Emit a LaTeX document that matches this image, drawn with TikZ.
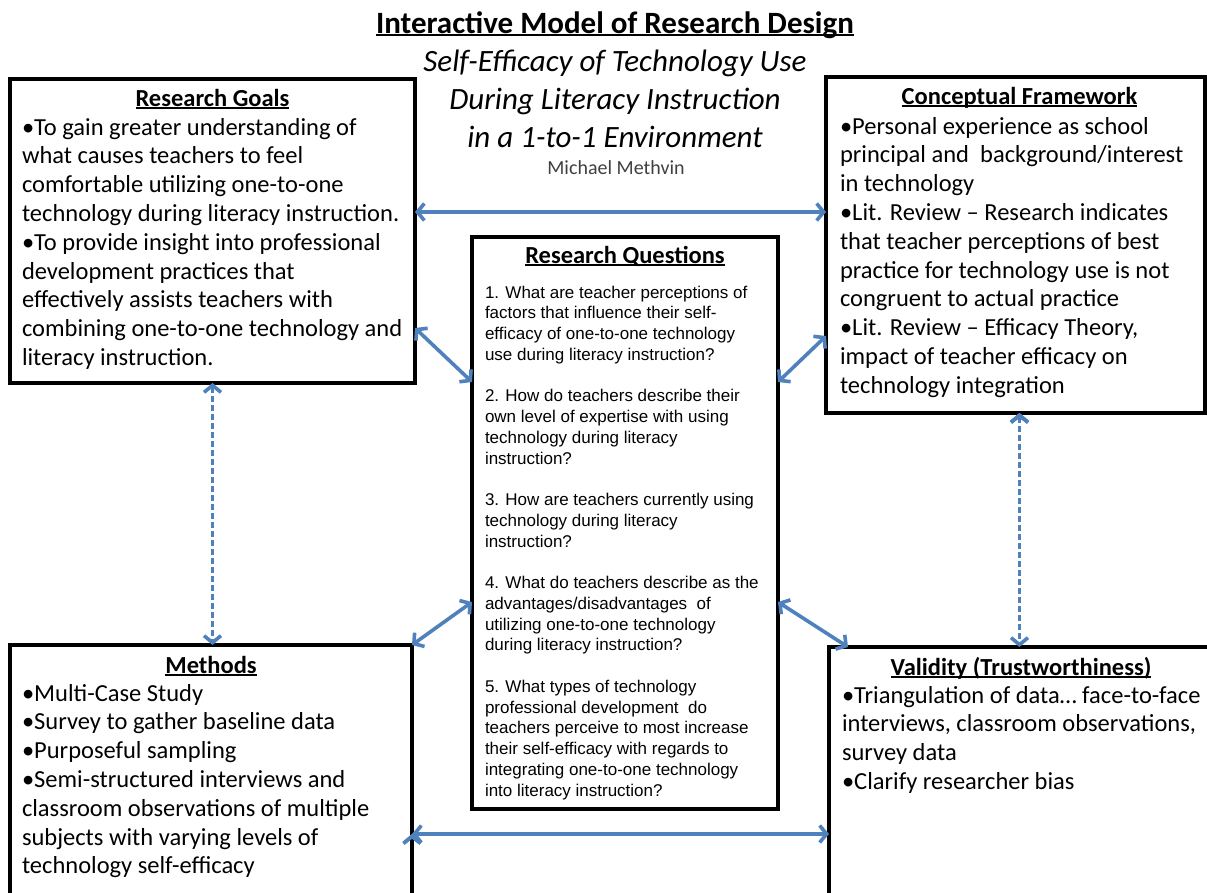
\documentclass[tikz,border=0pt]{standalone}
\usepackage{fontspec}
\setmainfont{Carlito}
\newfontfamily\qfont{Liberation Sans}
\usetikzlibrary{arrows.meta,positioning,calc}
\definecolor{linkblue}{HTML}{4F81BD}
\definecolor{namegray}{HTML}{404040}
\newcommand{\uln}[1]{\setbox0\hbox{#1}\rlap{\rule[-2.6pt]{\wd0}{1.8pt}}\box0}

\begin{document}
\begin{tikzpicture}[
    x=1pt, y=-1pt,
    every node/.style = {inner sep=0pt, outer sep=0pt},
    panel/.style = {draw, line width=3.5pt, anchor=north west},
    heading/.style = {font=\bfseries\fontsize{24.5}{28}\selectfont, anchor=base},
    bullets/.style = {font=\fontsize{24.5}{28.8}\selectfont, align=left, anchor=base west},
    questions/.style = {font=\qfont\fontsize{17}{20.75}\selectfont, align=left, anchor=base west},
    link/.style = {draw=linkblue, line width=3.6pt,
      {Straight Barb[length=7pt,width=17pt]}-{Straight Barb[length=7pt,width=17pt]}},
    dashlink/.style = {link, dash pattern=on 6pt off 3pt}
  ]
  \useasboundingbox (0,0) rectangle (1207,892);

  % title block (multi-line nodes sit on their last baseline)
  \node[font=\bfseries\fontsize{31}{34}\selectfont, anchor=base] (title) at (615,33)
    {\uln{Interactive Model of Research Design}};
  \node[font=\itshape\fontsize{31}{38}\selectfont, align=center, anchor=base] (subtitle) at (615,147)
    {Self-Efficacy of Technology Use\\During Literacy Instruction\\in a 1-to-1 Environment};
  \node[font=\fontsize{20}{22}\selectfont, text=namegray, anchor=base] (author) at (616,174)
    {Michael Methvin};

  % boxes
  \node[panel, minimum width=405pt, minimum height=304pt] (goals) at (10,79) {};
  \node[panel, minimum width=379pt, minimum height=336pt] (frame) at (826,77) {};
  \node[panel, minimum width=306pt, minimum height=572pt] (rq) at (472,237) {};
  \node[panel, minimum width=402pt, minimum height=260pt] (methods) at (10,645) {};
  \node[panel, minimum width=385pt, minimum height=260pt] (valid) at (829,647) {};

  % research goals
  \node[heading] (goalshead) at ([yshift=-27pt]goals.north) {\uln{Research Goals}};
  \node[bullets] (goalstext) at ([xshift=12pt,yshift=-286.4pt]goals.north west)
    {•To gain greater understanding of\\
     what causes teachers to feel\\
     comfortable utilizing one-to-one\\
     technology during literacy instruction.\\
     •To provide insight into professional\\
     development practices that\\
     effectively assists teachers with\\
     combining one-to-one technology and\\
     literacy instruction.};

  % conceptual framework
  \node[heading] (framehead) at ([xshift=4pt,yshift=-27pt]frame.north) {\uln{Conceptual Framework}};
  \node[bullets] (frametext) at ([xshift=14pt,yshift=-316.2pt]frame.north west)
    {•Personal experience as school\\
     principal and~ background/interest\\
     in technology\\
     •Lit. Review – Research indicates\\
     that teacher perceptions of best\\
     practice for technology use is not\\
     congruent to actual practice\\
     •Lit. Review – Efficacy Theory,\\
     impact of teacher efficacy on\\
     technology integration};

  % research questions
  \node[heading] (rqhead) at ([yshift=-26pt]rq.north) {\uln{Research Questions}};
  \node[questions] (rqtext) at ([xshift=13pt,yshift=-559pt]rq.north west)
    {1. What are teacher perceptions of\\
     factors that influence their self-\\
     efficacy of one-to-one technology\\
     use during literacy instruction?\\[20.75pt]
     2. How do teachers describe their\\
     own level of expertise with using\\
     technology during literacy\\
     instruction?\\[20.75pt]
     3. How are teachers currently using\\
     technology during literacy\\
     instruction?\\[20.75pt]
     4. What do teachers describe as the\\
     advantages/disadvantages~ of\\
     utilizing one-to-one technology\\
     during literacy instruction?\\[20.75pt]
     5. What types of technology\\
     professional development~ do\\
     teachers perceive to most increase\\
     their self-efficacy with regards to\\
     integrating one-to-one technology\\
     into literacy instruction?};

  % methods
  \node[heading] (methodshead) at ([yshift=-28pt]methods.north) {\uln{Methods}};
  \node[bullets] (methodstext) at ([xshift=12pt,yshift=-228.8pt]methods.north west)
    {•Multi-Case Study\\
     •Survey to gather baseline data\\
     •Purposeful sampling\\
     •Semi-structured interviews and\\
     classroom observations of multiple\\
     subjects with varying levels of\\
     technology self-efficacy};

  % validity
  \node[heading] (validhead) at ([xshift=-0.5pt,yshift=-28pt]valid.north) {\uln{Validity (Trustworthiness)}};
  \node[bullets] (validtext) at ([xshift=13pt,yshift=-142.4pt]valid.north west)
    {•Triangulation of data… face-to-face\\
     interviews, classroom observations,\\
     survey data\\
     •Clarify researcher bias};

  % connectors
  \path[link] ([yshift=-133pt]goals.north east) edge ([yshift=-135pt]frame.north west)
              ([yshift=55pt]goals.south east) edge ([yshift=-145pt]rq.north west)
              ([yshift=-145pt]rq.north east) edge ([yshift=77pt]frame.south west)
              ([yshift=207pt]rq.south west) edge (methods.north east)
              ([yshift=207pt]rq.south east) edge ([xshift=19pt]valid.north west)
              ([yshift=-189pt]methods.north east) edge ([yshift=-187pt]valid.north west);
  \path[dashlink] (goals.south) edge (goals.south |- methods.north)
                  ([xshift=4pt]frame.south) edge ([xshift=4pt]frame.south |- valid.north);

\end{tikzpicture}
\end{document}
